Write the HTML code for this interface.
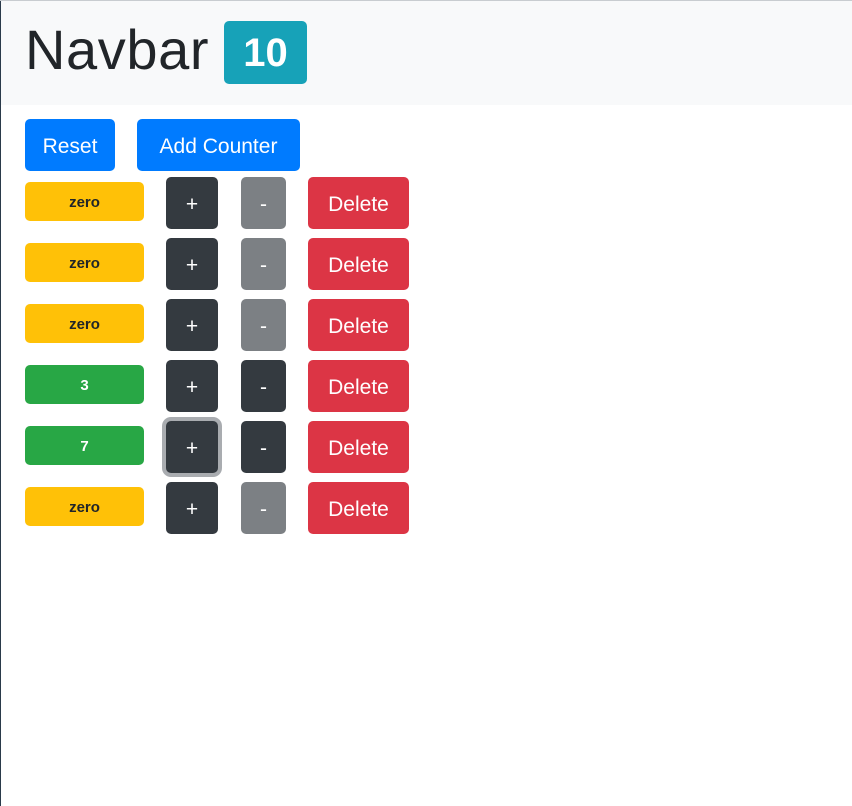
<!DOCTYPE html>
<html><head><style>
body{margin:0;width:852px;height:805px;background:#fff;font-family:"Segoe UI","Liberation Sans",sans-serif;position:relative;overflow:hidden;border-top:1px solid #c8ccd0;box-sizing:border-box}
.l{position:absolute;left:0;top:0;width:1px;height:805px;background:#2a3a4a}
.nav{position:absolute;left:1px;top:0;width:851px;height:104px;background:#f8f9fa}
.t{position:absolute;left:24px;top:16px;font-size:56px;letter-spacing:0.6px;color:#212529;line-height:66px}
.b{position:absolute;left:223px;top:20px;width:83px;height:63px;background:#17a2b8;border-radius:5px;color:#fff;font-weight:bold;font-size:40px;text-align:center;line-height:65px}
.x{position:absolute;color:#fff;font-size:21px;text-align:center;border-radius:5px;display:flex;align-items:center;justify-content:center;padding-top:3px;box-sizing:border-box}
.p{position:absolute;border-radius:5px;font-weight:bold;font-size:15px;text-align:center;line-height:42px;left:25px;width:119px;height:39px}
</style></head><body>
<div class="l"></div>
<div class="nav"><div class="t">Navbar</div><div class="b">10</div></div>
<div class="x" style="left:25px;top:118px;width:90px;height:52px;background:#007bff">Reset</div>
<div class="x" style="left:137px;top:118px;width:163px;height:52px;background:#007bff">Add Counter</div>
<script>
const rows=[["zero",0,0],["zero",0,0],["zero",0,0],["3",1,1],["7",1,1],["zero",0,0]];
let h="";
rows.forEach((r,i)=>{const t=176+61*i;
h+=`<div class="p" style="top:${t+5}px;background:${r[1]?'#28a745':'#ffc107'};color:${r[1]?'#fff':'#212529'}">${r[0]}</div>`;
h+=`<div class="x" style="left:166px;top:${t}px;width:52px;height:52px;background:#343a40;${i==4?'box-shadow:0 0 0 4px #a9acb0;':''}">+</div>`;
h+=`<div class="x" style="left:241px;top:${t}px;width:45px;height:52px;background:${r[2]?'#343a40':'#7c8084'}">-</div>`;
h+=`<div class="x" style="left:308px;top:${t}px;width:101px;height:52px;background:#dc3545">Delete</div>`;});
document.write(h);
</script>
</body></html>
